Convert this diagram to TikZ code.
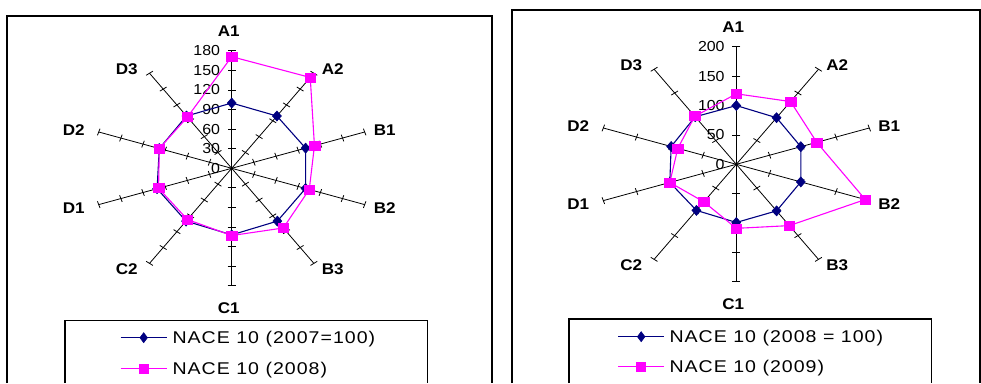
\documentclass[tikz,border=0pt]{standalone}
\usepackage{fontspec}
\newfontfamily\chartfont[FakeStretch=1.1]{Liberation Sans}
\newfontfamily\legendfont[FakeStretch=1.15,LetterSpace=6]{Liberation Sans}
\definecolor{naceblue}{RGB}{0,0,128}
\definecolor{nacepink}{RGB}{255,0,255}
\usetikzlibrary{plotmarks}

\begin{document}
\begin{tikzpicture}[x=1pt, y=-1pt,
	frame/.style={black, line width=1.1pt},
	spoke/.style={black, line width=0.8pt},
	blueline/.style={naceblue, line width=1.1pt, mark=diamond*, mark size=5pt, mark options={fill=naceblue, line width=0.6pt}},
	pinkline/.style={nacepink, line width=1.1pt, mark=square*, mark size=4.5pt, mark options={fill=nacepink, line width=0.6pt}},
	catlabel/.style={font=\chartfont\bfseries\fontsize{15.5}{16}\selectfont, inner sep=0pt},
	vallabel/.style={font=\chartfont\fontsize{14.5}{15}\selectfont, anchor=east, inner sep=0pt},
	legendtext/.style={font=\legendfont\fontsize{17}{18}\selectfont, anchor=base west, inner sep=0pt}]

\useasboundingbox (0, 0) rectangle (981, 383);

\def \rr{117.5pt} % length of a spoke
\def \sx{1.19} % the sheets were stretched sideways

\newcommand{\rv}[1]{#1 / \vmax * \rr}

% ten spokes with their ticks, #1/#2 = centre, #3 = number of ticks
\newcommand{\spokes}[3]{
	\begin{scope}[shift={(#1, #2)}, xscale=\sx]
	\foreach \i in {0, ..., 9} {
		\begin{scope}[rotate=90-36*\i]
		\draw[spoke] (0pt, 0pt) -- (\rr, 0pt); % spoke
		\foreach \k in {1, ..., #3}
			\draw[spoke] (\k*\rr/#3, -3.5pt) -- (\k*\rr/#3, 3.5pt); % tick
		\end{scope}
	}
	\end{scope}
}

% category names round the web, #1 = prefix, #2/#3 = centre
\newcommand{\catnames}[3]{
	\foreach \lab/\dx/\dy in {A1/-3/-137, A2/101/-99, B1/153/-38, B2/153/40, B3/101/101,
			C1/-3/140, C2/-105/101, D1/-158/40, D2/-158/-38, D3/-105/-99}
		\node[catlabel] (#1\lab) at ({#2+\dx}, {#3+\dy}) {\lab};
}

% values along A1, #1 = prefix, #2/#3 = centre, #4 = step, #5 = number of ticks
\newcommand{\vallabels}[5]{
	\foreach \k in {0, ..., #5} {
		\pgfmathtruncatemacro{\tickval}{\k*#4}
		\node[vallabel] (#1v\tickval) at ({#2-11.5}, {#3-\k*117.5/#5}) {\tickval};
	}
}

% ---- left sheet: 2007 = 100 ----
\draw[frame] (7, 383) -- (7, 16) -- (492, 16) -- (492, 383); % chart area
\spokes{231.7}{168.3}{6}
\vallabels{left}{231.7}{168.3}{30}{6}
\catnames{left}{231.7}{168.3}

\begin{scope}[shift={(231.7, 168.3)}, xscale=\sx]
\def \vmax{180}
\draw[blueline] plot coordinates {
	(  90:\rv{100})
	(  54:\rv{ 99})
	(  18:\rv{100})
	( -18:\rv{100})
	( -54:\rv{100})
	( -90:\rv{102})
	(-126:\rv{100})
	(-162:\rv{101})
	( 162:\rv{ 98})
	( 126:\rv{ 99})} -- cycle;
\draw[pinkline] plot coordinates {
	(  90:\rv{171})
	(  54:\rv{172})
	(  18:\rv{112})
	( -18:\rv{105})
	( -54:\rv{113})
	( -90:\rv{103})
	(-126:\rv{ 97})
	(-162:\rv{ 99})
	( 162:\rv{ 98})
	( 126:\rv{ 97})} -- cycle;
\end{scope}

\draw[frame] (65, 383) -- (65, 320.7) -- (427.7, 320.7) -- (427.7, 383); % legend
\draw[blueline, mark indices={2}] plot coordinates {(120.7, 337.7) (143.7, 337.7) (166.7, 337.7)};
\node[legendtext] (leftkey1) at (172.3, 343.5) {NACE 10 (2007=100)};
\draw[pinkline, mark indices={2}] plot coordinates {(120.7, 368.3) (143.7, 368.3) (166.7, 368.3)};
\node[legendtext] (leftkey2) at (172.3, 374.1) {NACE 10 (2008)};

% ---- right sheet: 2008 = 100 ----
\draw[frame] (512, 383) -- (512, 10) -- (980, 10) -- (980, 383); % chart area
\spokes{736.3}{164.3}{4}
\vallabels{right}{736.3}{164.3}{50}{4}
\catnames{right}{736.3}{164.3}

\begin{scope}[shift={(736.3, 164.3)}, xscale=\sx]
\def \vmax{200}
\draw[blueline] plot coordinates {
	(  90:\rv{100})
	(  54:\rv{ 98})
	(  18:\rv{ 97})
	( -18:\rv{ 97})
	( -54:\rv{ 98})
	( -90:\rv{ 99})
	(-126:\rv{ 97})
	(-162:\rv{100})
	( 162:\rv{ 98})
	( 126:\rv{100})} -- cycle;
\draw[pinkline] plot coordinates {
	(  90:\rv{120})
	(  54:\rv{132})
	(  18:\rv{121})
	( -18:\rv{194})
	( -54:\rv{129})
	( -90:\rv{109})
	(-126:\rv{ 79})
	(-162:\rv{100})
	( 162:\rv{ 88})
	( 126:\rv{101})} -- cycle;
\end{scope}

\draw[frame] (569, 383) -- (569, 319) -- (931.7, 319) -- (931.7, 383); % legend
\draw[blueline, mark indices={2}] plot coordinates {(618.3, 336.7) (641.2, 336.7) (664, 336.7)};
\node[legendtext] (rightkey1) at (669.3, 342.5) {NACE 10 (2008 = 100)};
\draw[pinkline, mark indices={2}] plot coordinates {(618.3, 366.7) (641.2, 366.7) (664, 366.7)};
\node[legendtext] (rightkey2) at (669.3, 372.5) {NACE 10 (2009)};

\end{tikzpicture}
\end{document}
